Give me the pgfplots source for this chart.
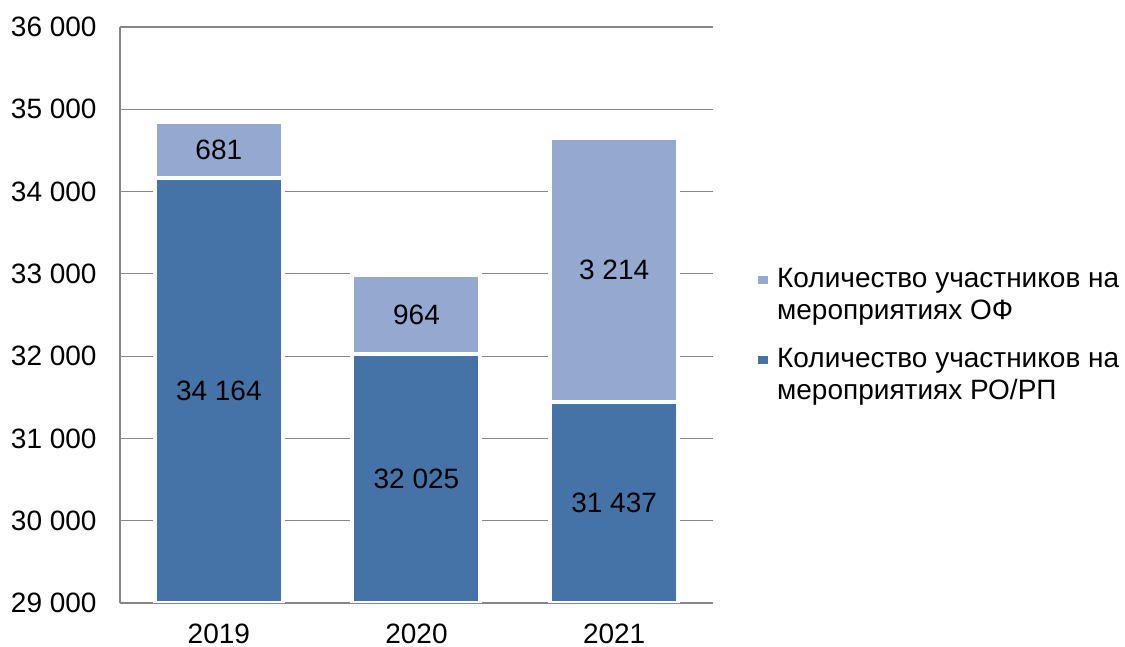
\documentclass[border=0pt]{standalone}
\usepackage{pgfplots}
\pgfplotsset{compat=1.18}
\usepackage{fontspec}
\setmainfont{Liberation Sans}
\definecolor{barDark}{RGB}{69,115,167}
\definecolor{barLight}{RGB}{149,169,208}
\definecolor{gridGray}{RGB}{134,134,134}
\begin{document}
\begin{tikzpicture}
\path[use as bounding box] (-60pt,-22pt) rectangle (502.5pt,301.5pt);
\begin{axis}[
  at={(0,0)}, anchor=south west,
  width=296.5pt, height=288pt, scale only axis,
  xmin=-0.5, xmax=2.5, ymin=29000, ymax=36000,
  ytick={29000,30000,...,36000},
  scaled y ticks=false,
  yticklabel={\pgfmathprintnumber[fixed,precision=0]{\tick}},
  xtick={0,1,2}, xticklabels={2019,2020,2021},
  ybar stacked, bar width=64pt,
  axis x line*=bottom, axis y line*=left,
  axis line style={gridGray, line width=0.6pt, -},
  ymajorgrids, grid style={gridGray, line width=0.6pt},
  major tick length=0pt,
  font=\fontsize{14}{16}\selectfont,
  /pgf/number format/assume math mode=true,
  /pgf/number format/1000 sep={\ },
  yticklabel style={inner sep=0pt, xshift=-11.5pt, anchor=east},
  xticklabel style={inner sep=0pt, yshift=-10.5pt, anchor=north},
  reverse legend,
  legend cell align=left,
  legend style={at={(1.062,0.465)}, anchor=west, draw=none, fill=none,
    font=\fontsize{14}{16}\selectfont, row sep=9pt, cells={align=left}},
  legend image code/.code={\fill[#1, draw=none] (0pt,4.5pt) rectangle (5pt,9.5pt);
    \path (0pt,4.5pt) -- (6.5pt,4.5pt);},
  visualization depends on=rawy \as \rawy,
  nodes near coords={\pgfmathprintnumber[fixed,precision=0]{\rawy}},
]
\addplot[fill=barDark, draw=white, line width=2pt,
  every node near coord/.append style={anchor=center, black, inner sep=0pt,
    yshift=596.571pt}]
  coordinates {(0,34164) (1,32025) (2,31437)};
\addlegendentry{Количество участников на\\мероприятиях РО/РП}
\addplot[fill=barLight, draw=white, line width=2pt,
  every node near coord/.append style={anchor=center, black, inner sep=0pt}]
  coordinates {(0,681) (1,964) (2,3214)};
\addlegendentry{Количество участников на\\мероприятиях ОФ}
\end{axis}
\end{tikzpicture}
\end{document}
